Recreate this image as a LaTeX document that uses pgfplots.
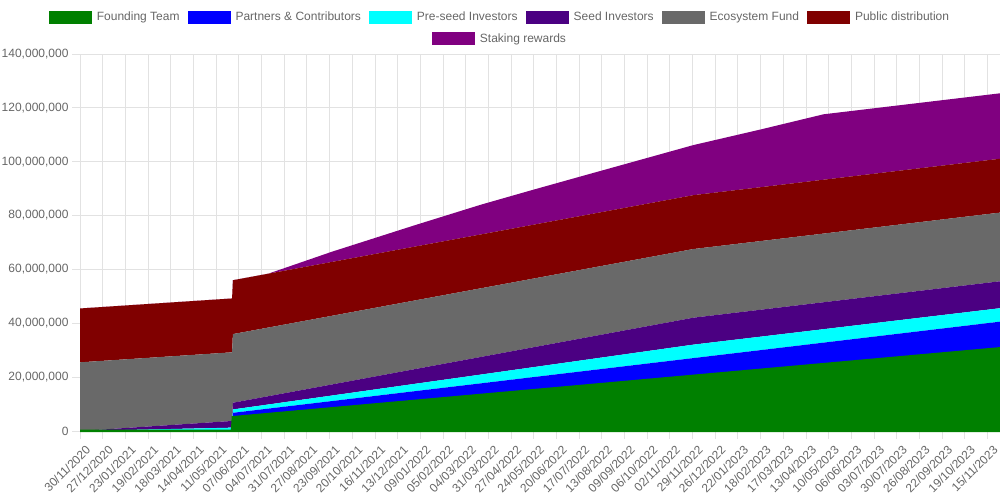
\documentclass[border=0pt]{standalone}
\usepackage{fontspec}
\setmainfont{Liberation Sans}
\usepackage{pgfplots}
\usepackage{pgfplotstable}
\pgfplotsset{compat=1.18}
\definecolor{cF}{HTML}{008000}
\definecolor{cP}{HTML}{0000FF}
\definecolor{cPS}{HTML}{00FFFF}
\definecolor{cS}{HTML}{4B0082}
\definecolor{cE}{HTML}{696969}
\definecolor{cPD}{HTML}{800000}
\definecolor{cST}{HTML}{800080}
\definecolor{txt}{HTML}{666666}
\definecolor{gridc}{HTML}{E2E2E2}

% values in millions of tokens
\pgfplotstableread{
day  F      P     PS    S      E     PD   ST
0    0      0     0     0      25.5  20   0
181  0      0     1.24  2.48   25.5  20   0
182  5.10   1.65  1.25  2.49   25.5  20   0
224  6.28   2.03  1.53  3.07   25.5  20   0
300  8.41   2.71  2.06  4.11   25.5  20   3.8
400  11.22  3.62  2.74  5.48   25.5  20   8.0
476  13.35  4.30  3.26  6.52   25.5  20   11.0
536  15.03  4.85  3.67  7.34   25.5  20   12.9
600  16.82  5.43  4.11  8.22   25.5  20   14.8
730  20.47  6.60  5.00  10.00  25.5  20   18.6
809  22.68  7.31  5.00  10.00  25.5  20   21.4
885  24.81  8.00  5.00  10.00  25.5  20   24.3
1095 30.70  9.90  5.00  10.00  25.5  20   24.3
}\vest

\pgfplotsset{
  mylegend/.style={
    legend style={draw=none, fill=none, anchor=center, inner sep=0pt,
      font=\fontsize{12}{14}\selectfont, text=txt,
      /tikz/every odd column/.append style={column sep=3pt},
      /tikz/every even column/.append style={column sep=6pt}},
    legend image code/.code={\fill[##1, draw=none] (0pt,-6.5pt) rectangle (43pt,6.5pt);},
  },
}

\begin{document}
\begin{tikzpicture}[x=1pt,y=1pt,font=\fontsize{12}{14}\selectfont]
\useasboundingbox (0,0) rectangle (1000,500);
\begin{axis}[
  at={(80pt,69pt)}, anchor=south west,
  scale only axis, width=920pt, height=377pt,
  xmin=0, xmax=1095, ymin=0, ymax=140,
  stack plots=y,
  axis x line*=bottom, axis y line*=left,
  axis line style={draw=gridc, line width=1pt},
  xtick={0,27,...,1080},
  xticklabels={30/11/2020,27/12/2020,23/01/2021,19/02/2021,18/03/2021,14/04/2021,11/05/2021,07/06/2021,04/07/2021,31/07/2021,27/08/2021,23/09/2021,20/10/2021,16/11/2021,13/12/2021,09/01/2022,05/02/2022,04/03/2022,31/03/2022,27/04/2022,24/05/2022,20/06/2022,17/07/2022,13/08/2022,09/09/2022,06/10/2022,02/11/2022,29/11/2022,26/12/2022,22/01/2023,18/02/2023,17/03/2023,13/04/2023,10/05/2023,06/06/2023,03/07/2023,30/07/2023,26/08/2023,22/09/2023,19/10/2023,15/11/2023},
  ytick={0,20,...,140},
  yticklabels={0,{20,000,000},{40,000,000},{60,000,000},{80,000,000},{100,000,000},{120,000,000},{140,000,000}},
  grid=major, grid style={draw=gridc, line width=0.8pt},
  tick align=outside, major tick length=8pt,
  tick style={draw=gridc, line width=0.8pt},
  x tick label style={xshift=5pt, yshift=-4pt, rotate=45, anchor=north east, text=txt, inner sep=1pt},
  y tick label style={text=txt},
  clip=false,
  mylegend,
  legend columns=6,
  legend style={at={(0.4565,1.0981)}},
]
\addplot[fill=cF, draw=cF, line width=2.5pt] table[x=day,y=F]{\vest} \closedcycle;
\addplot[fill=cP, draw=none] table[x=day,y=P]{\vest} \closedcycle;
\addplot[fill=cPS, draw=none] table[x=day,y=PS]{\vest} \closedcycle;
\addplot[fill=cS, draw=none] table[x=day,y=S]{\vest} \closedcycle;
\addplot[fill=cE, draw=none] table[x=day,y=E]{\vest} \closedcycle;
\addplot[fill=cPD, draw=none] table[x=day,y=PD]{\vest} \closedcycle;
\addplot[fill=cST, draw=none] table[x=day,y=ST]{\vest} \closedcycle;
\legend{Founding Team,Partners \& Contributors,Pre-seed Investors,Seed Investors,Ecosystem Fund,Public distribution}
\end{axis}
\begin{axis}[
  at={(80pt,69pt)}, anchor=south west,
  scale only axis, width=920pt, height=377pt,
  hide axis, xmin=0, xmax=1, ymin=0, ymax=1,
  mylegend,
  legend style={at={(0.4565,1.0398)}},
]
\addlegendimage{fill=cST, draw=none}
\addlegendentry{Staking rewards}
\end{axis}
\end{tikzpicture}
\end{document}
